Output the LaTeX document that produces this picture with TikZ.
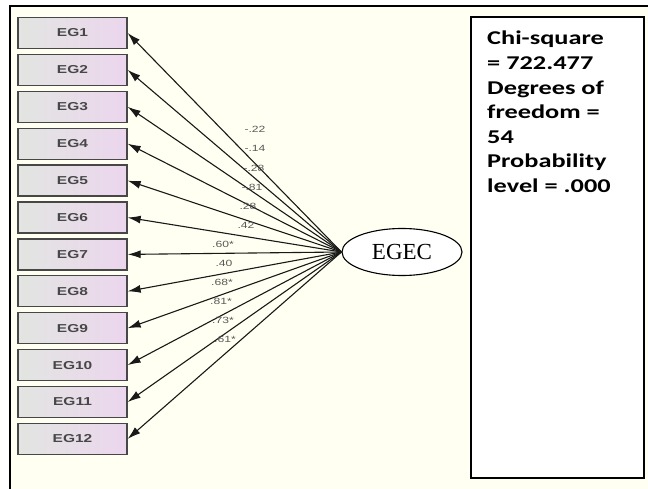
\documentclass[tikz,border=0pt]{standalone}
\usepackage{fontspec}
\setmainfont{Liberation Serif}
\newfontfamily\arialf{Liberation Sans}
\newfontfamily\calf{Carlito}
\usetikzlibrary{arrows.meta,shapes.geometric}
\definecolor{cream}{RGB}{255,255,242}
\definecolor{boxl}{RGB}{226,229,225}
\definecolor{boxr}{RGB}{236,214,238}
\definecolor{lblgray}{RGB}{90,90,90}
\newcommand{\hstretch}[1]{\scalebox{1.35}[1]{#1}}
\begin{document}
\begin{tikzpicture}[x=1pt,y=-1pt,
  egbox/.style={draw=black!72,line width=1.3pt,left color=boxl,right color=boxr,
    minimum width=109pt,minimum height=31pt,inner sep=0pt,
    font=\arialf\bfseries\fontsize{11.5}{13}\selectfont,text=black!72},
  arr/.style={line width=1.1pt,black!90,-{Latex[length=13pt,width=8pt]}},
  lbl/.style={font=\arialf\fontsize{9}{10}\selectfont,text=lblgray,inner sep=0pt},
  stat/.style={anchor=base west,inner sep=0pt,font=\calf\bfseries\fontsize{19.5}{22}\selectfont}]
\useasboundingbox (0,0) rectangle (648,489);
\fill[cream] (10,6) rectangle (648,489);
\draw[line width=2.5pt] (10,489) -- (10,6) -- (648,6);
% right stats box
\node[draw,line width=2pt,fill=white,minimum width=173pt,minimum height=461pt,inner sep=0pt] (stats) at (557.5,247.5) {};
\node[stat] (s1) at (487,45) {\hstretch{Chi-square}};
\node[stat] (s2) at (487,70) {\hstretch{= 722.477}};
\node[stat] (s3) at (487,94.5) {\hstretch{Degrees of}};
\node[stat] (s4) at (487,119) {\hstretch{freedom =}};
\node[stat] (s5) at (487,143.5) {\hstretch{54}};
\node[stat] (s6) at (487,168) {\hstretch{Probability}};
\node[stat] (s7) at (487,192.5) {\hstretch{level = .000}};
% latent
\node[ellipse,draw,line width=1.1pt,fill=white,minimum width=120pt,minimum height=47pt,inner sep=0pt,
  font=\fontsize{23}{26}\selectfont] (egec) at (402,252) {EGEC};
% indicators
\foreach \i in {1,...,12}{
  \node[egbox] (eg\i) at (72.5,{33+36.9*(\i-1)}) {\hstretch{EG\i}};
  \draw[arr] (egec.west) -- (eg\i.east);
}
% loadings
\foreach \t/\x/\y [count=\k] in {-.22/255/129,-.14/255/148,-.28/254/168,-.81/252/187,.28/248/206,.42/246/225,
  .60*/223/244,.40/224/263,.68*/222/282,.81*/221/301,.73*/223/320,.61*/225/339}{
  \node[lbl] (l\k) at (\x,\y) {\hstretch{\t}};
}
\end{tikzpicture}
\end{document}
